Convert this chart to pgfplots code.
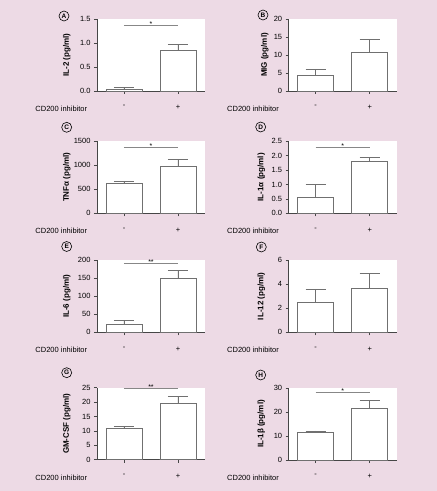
\documentclass[border=0pt]{standalone}
\usepackage{fontspec}
\setmainfont{Liberation Sans}
\usepackage{pgfplots}
\pgfplotsset{compat=1.18}
\definecolor{bg}{RGB}{237,218,229}
\definecolor{edge}{RGB}{112,112,112}
\definecolor{axc}{RGB}{70,70,70}
\definecolor{sig}{RGB}{135,135,135}
\pgfplotsset{
  /pgf/number format/assume math mode=true,
  panel/.style={
    scale only axis, width=108pt, height=72pt, anchor=south west,
    xmin=-0.5, xmax=1.5, ymin=0, clip=false,
    axis x line*=bottom, axis y line*=left,
    axis background/.style={fill=white},
    axis line style={axc, line width=0.7pt},
    xtick={0,1}, xticklabels={-,+},
    tick style={axc, line width=0.7pt},
    tick align=outside, major tick length=3pt, minor tick num=0,
    ticklabel style={font=\fontsize{7.5}{9}\selectfont},
    xticklabel style={yshift=-8pt},
    scaled y ticks=false,
    yticklabel style={/pgf/number format/1000 sep={}},
    ylabel style={anchor=center, font=\bfseries\fontsize{8}{9}\selectfont},
  },
  dec/.style={yticklabel style={/pgf/number format/fixed, /pgf/number format/fixed zerofill, /pgf/number format/precision=1}},
  bars/.style={ybar, bar width=36pt, fill=white, draw=edge, line width=0.8pt,
    error bars/.cd, y dir=plus, y explicit,
    error bar style={edge, line width=0.8pt},
    error mark options={edge, line width=0.8pt, mark size=10pt, rotate=90}},
  sigl/.style={sig, line width=1pt, forget plot},
}
\newcommand{\cdlab}{\node[anchor=east, font=\fontsize{7.5}{9}\selectfont, xshift=-6.3pt, yshift=-18pt] at (rel axis cs:0,0) {CD200 inhibitor};}
\newcommand{\plab}[3]{\node[circle, draw=black, line width=0.6pt, inner sep=0pt, minimum size=10pt, font=\bfseries\fontsize{6.5}{7}\selectfont] at (#1pt,#2pt) {#3};}
\begin{document}
\begin{tikzpicture}
\fill[bg] (0,0) rectangle (437pt,491pt);
% A
\begin{axis}[panel, dec, at={(97pt,400pt)}, ymax=1.5, ytick={0,0.5,1,1.5},
  ylabel={IL-2 (pg/ml)}, ylabel style={at={(axis description cs:-0.28,0.5)}}]
\addplot[bars] coordinates {(0,0.035) +- (0,0.042) (1,0.844) +- (0,0.133)};
\addplot[sigl] coordinates {(0,1.36) (1,1.36)};
\node[anchor=base, yshift=-1pt, font=\fontsize{7}{8}\selectfont] at (axis cs:0.5,1.36) {*};
\cdlab
\end{axis}
% B
\begin{axis}[panel, at={(288.7pt,400pt)}, ymax=20, ytick={0,5,10,15,20},
  ylabel={MIG (pg/ml)}, ylabel style={at={(axis description cs:-0.222,0.5)}}]
\addplot[bars] coordinates {(0,4.37) +- (0,1.68) (1,10.7) +- (0,3.5)};
\cdlab
\end{axis}
% C
\begin{axis}[panel, at={(97pt,277.7pt)}, ymax=1500, ytick={0,500,1000,1500},
  ylabel={TNFα (pg/ml)}, ylabel style={at={(axis description cs:-0.28,0.5)}}]
\addplot[bars] coordinates {(0,622) +- (0,41) (1,974) +- (0,146)};
\addplot[sigl] coordinates {(0,1361) (1,1361)};
\node[anchor=base, yshift=-1pt, font=\fontsize{7}{8}\selectfont] at (axis cs:0.5,1361) {*};
\cdlab
\end{axis}
% D
\begin{axis}[panel, dec, at={(288.7pt,277.7pt)}, ymax=2.5, ytick={0,0.5,1,1.5,2,2.5},
  ylabel={IL-1α (pg/ml)}, ylabel style={at={(axis description cs:-0.254,0.5)}}]
\addplot[bars] coordinates {(0,0.55) +- (0,0.45) (1,1.81) +- (0,0.14)};
\addplot[sigl] coordinates {(0,2.30) (1,2.30)};
\node[anchor=base, yshift=-1pt, font=\fontsize{7}{8}\selectfont] at (axis cs:0.5,2.30) {*};
\cdlab
\end{axis}
% E
\begin{axis}[panel, at={(97pt,158.7pt)}, ymax=200, ytick={0,50,100,150,200},
  ylabel={IL-6 (pg/ml)}, ylabel style={at={(axis description cs:-0.28,0.5)}}]
\addplot[bars] coordinates {(0,21.3) +- (0,12) (1,150) +- (0,22)};
\addplot[sigl] coordinates {(0,190.7) (1,190.7)};
\node[anchor=base, yshift=-1pt, font=\fontsize{7}{8}\selectfont] at (axis cs:0.5,190.7) {**};
\cdlab
\end{axis}
% F
\begin{axis}[panel, at={(288.7pt,158.7pt)}, ymax=6, ytick={0,2,4,6},
  ylabel={IL-12 (pg/ml)}, ylabel style={at={(axis description cs:-0.254,0.5)}}]
\addplot[bars] coordinates {(0,2.5) +- (0,1.06) (1,3.67) +- (0,1.22)};
\cdlab
\end{axis}
% G
\begin{axis}[panel, at={(97pt,31.3pt)}, ymax=25, ytick={0,5,10,15,20,25},
  ylabel={GM-CSF (pg/ml)}, ylabel style={at={(axis description cs:-0.28,0.5)}}]
\addplot[bars] coordinates {(0,10.75) +- (0,0.95) (1,19.4) +- (0,2.45)};
\addplot[sigl] coordinates {(0,24.8) (1,24.8)};
\node[anchor=base, yshift=-1pt, font=\fontsize{7}{8}\selectfont] at (axis cs:0.5,24.8) {**};
\cdlab
\end{axis}
% H
\begin{axis}[panel, at={(288.7pt,31pt)}, ymax=30, ytick={0,10,20,30},
  ylabel={IL-1β (pg/ml)}, ylabel style={at={(axis description cs:-0.254,0.5)}}]
\addplot[bars] coordinates {(0,11.3) +- (0,0.8) (1,21.6) +- (0,3.2)};
\addplot[sigl] coordinates {(0,28.3) (1,28.3)};
\node[anchor=base, yshift=-1pt, font=\fontsize{7}{8}\selectfont] at (axis cs:0.5,28.3) {*};
\cdlab
\end{axis}
\plab{64}{475}{A}
\plab{263}{476}{B}
\plab{66.7}{363.7}{C}
\plab{260.7}{364}{D}
\plab{66.7}{244.5}{E}
\plab{261.3}{244}{F}
\plab{66.7}{118.3}{G}
\plab{260.7}{116}{H}
\end{tikzpicture}
\end{document}
